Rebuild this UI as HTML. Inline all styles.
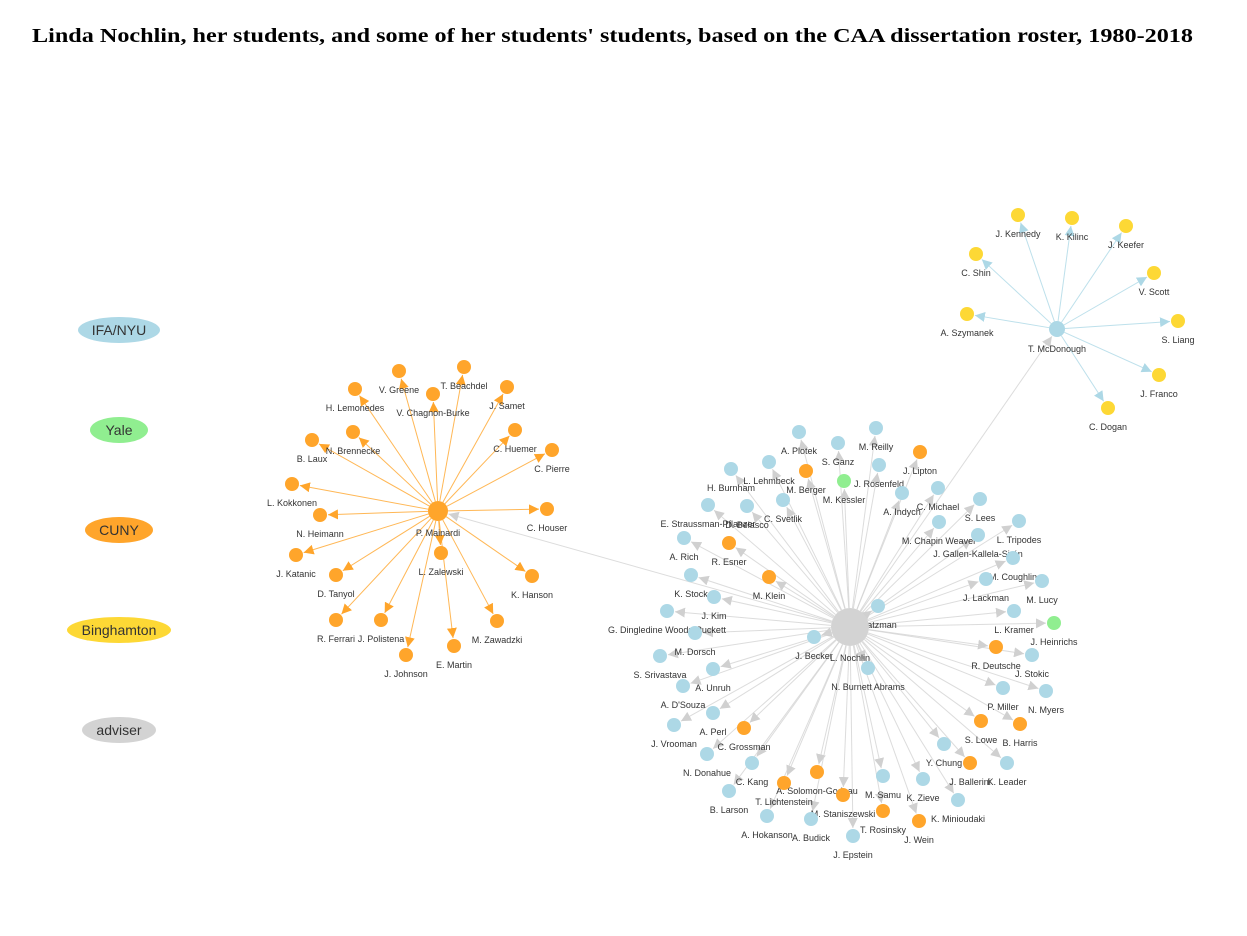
<!DOCTYPE html>
<html><head><meta charset="utf-8"><style>
html,body{margin:0;padding:0;background:#fff;}
svg{display:block;font-family:"Liberation Sans",Arial,sans-serif;}
</style></head><body>
<svg id="s" width="1247" height="936" viewBox="0 0 1247 936" xmlns="http://www.w3.org/2000/svg">
<defs>
<marker id="ag" viewBox="0 0 10 10" refX="10" refY="5" markerWidth="10" markerHeight="10" markerUnits="userSpaceOnUse" orient="auto"><path d="M0,0L10,5L0,10z" fill="#d0d0d0"/></marker>
<marker id="ao" viewBox="0 0 10 10" refX="10" refY="5" markerWidth="10" markerHeight="10" markerUnits="userSpaceOnUse" orient="auto"><path d="M0,0L10,5L0,10z" fill="#ffa52b"/></marker>
<marker id="ab" viewBox="0 0 10 10" refX="10" refY="5" markerWidth="10" markerHeight="10" markerUnits="userSpaceOnUse" orient="auto"><path d="M0,0L10,5L0,10z" fill="#add8e6"/></marker>
</defs>
<text x="32" y="42" textLength="1161" lengthAdjust="spacingAndGlyphs" font-family="'Liberation Serif',serif" font-weight="bold" font-size="20" fill="#000">Linda Nochlin, her students, and some of her students' students, based on the CAA dissertation roster, 1980-2018</text>
<g font-size="14" fill="#333" text-anchor="middle">
<ellipse cx="119" cy="330" rx="41" ry="13" fill="#add8e6"/><text x="119" y="335">IFA/NYU</text>
<ellipse cx="119" cy="430" rx="29" ry="13" fill="#90ee90"/><text x="119" y="435">Yale</text>
<ellipse cx="119" cy="530" rx="34" ry="13" fill="#ffa52b"/><text x="119" y="535">CUNY</text>
<ellipse cx="119" cy="630" rx="52" ry="13" fill="#fdd835"/><text x="119" y="635">Binghamton</text>
<ellipse cx="119" cy="730" rx="37" ry="13" fill="#d3d3d3"/><text x="119" y="735">adviser</text>
</g>
<g id="e"></g><g id="n"></g>
</svg>
<script>
var C={b:"#add8e6",g:"#90ee90",o:"#ffa52b",y:"#fdd835",a:"#d3d3d3"};
var N=[850,627],M=[438,511],D=[1057,329];
var main=[
[799,432,"b","A. Plotek"],[876,428,"b","M. Reilly"],[838,443,"b","S. Ganz"],[920,452,"o","J. Lipton"],
[769,462,"b","L. Lehmbeck"],[731,469,"b","H. Burnham"],[806,471,"o","M. Berger"],[844,481,"g","M. Kessler"],
[879,465,"b","J. Rosenfeld"],[902,493,"b","A. Indych"],[938,488,"b","C. Michael"],[980,499,"b","S. Lees"],
[783,500,"b","C. Svetlik"],[747,506,"b","D. Belasco"],[708,505,"b","E. Straussman-Pflanzer"],
[1019,521,"b","L. Tripodes"],[939,522,"b","M. Chapin Weaver"],[978,535,"b","J. Gallen-Kallela-Sirén"],
[684,538,"b","A. Rich"],[729,543,"o","R. Esner"],[1013,558,"b","M. Coughlin"],[1042,581,"b","M. Lucy"],
[986,579,"b","J. Lackman"],[769,577,"o","M. Klein"],[691,575,"b","K. Stock"],[714,597,"b","J. Kim"],
[667,611,"b","G. Dingledine Woods-Puckett"],[878,606,"b","Platzman"],[1014,611,"b","L. Kramer"],
[1054,623,"g","J. Heinrichs"],[814,637,"b","J. Becker"],[996,647,"o","R. Deutsche"],[1032,655,"b","J. Stokic"],
[868,668,"b","N. Burnett Abrams"],[695,633,"b","M. Dorsch"],[660,656,"b","S. Srivastava"],[713,669,"b","A. Unruh"],
[683,686,"b","A. D'Souza"],[713,713,"b","A. Perl"],[674,725,"b","J. Vrooman"],[744,728,"o","C. Grossman"],
[707,754,"b","N. Donahue"],[752,763,"b","C. Kang"],[729,791,"b","B. Larson"],[817,772,"o","A. Solomon-Godeau"],
[784,783,"o","T. Lichtenstein"],[843,795,"o","M. Staniszewski"],[767,816,"b","A. Hokanson"],[811,819,"b","A. Budick"],
[853,836,"b","J. Epstein"],[883,776,"b","M. Samu"],[883,811,"o","T. Rosinsky"],[923,779,"b","K. Zieve"],
[919,821,"o","J. Wein"],[958,800,"b","K. Minioudaki"],[944,744,"b","Y. Chung"],[970,763,"o","J. Ballerini"],
[1007,763,"b","K. Leader"],[981,721,"o","S. Lowe"],[1003,688,"b","P. Miller"],[1020,724,"o","B. Harris"],[1046,691,"b","N. Myers"]];
var mai=[[399,371,"V. Greene"],[464,367,"T. Beachdel"],[355,389,"H. Lemonedes"],[433,394,"V. Chagnon-Burke"],
[507,387,"J. Samet"],[353,432,"N. Brennecke"],[515,430,"C. Huemer"],[312,440,"B. Laux"],[552,450,"C. Pierre"],
[292,484,"L. Kokkonen"],[547,509,"C. Houser"],[320,515,"N. Heimann"],[441,553,"L. Zalewski"],[296,555,"J. Katanic"],
[336,575,"D. Tanyol"],[532,576,"K. Hanson"],[336,620,"R. Ferrari"],[381,620,"J. Polistena"],[497,621,"M. Zawadzki"],
[454,646,"E. Martin"],[406,655,"J. Johnson"]];
var mcd=[[1018,215,"J. Kennedy"],[1072,218,"K. Kilinc"],[1126,226,"J. Keefer"],[976,254,"C. Shin"],[1154,273,"V. Scott"],
[967,314,"A. Szymanek"],[1178,321,"S. Liang"],[1159,375,"J. Franco"],[1108,408,"C. Dogan"]];
var E=document.getElementById("e"),G=document.getElementById("n"),ns="http://www.w3.org/2000/svg";
function el(t,a,p){var e=document.createElementNS(ns,t);for(var k in a)e.setAttribute(k,a[k]);p.appendChild(e);return e;}
function edge(s,sr,t,tr,col,mk){var dx=t[0]-s[0],dy=t[1]-s[1],L=Math.hypot(dx,dy),ux=dx/L,uy=dy/L;
el("line",{x1:s[0]+ux*sr,y1:s[1]+uy*sr,x2:t[0]-ux*(tr+1),y2:t[1]-uy*(tr+1),stroke:col,"stroke-width":1,"stroke-opacity":0.8,"marker-end":"url(#"+mk+")"},E);}
function node(x,y,r,c,lab,dy){el("circle",{cx:x,cy:y,r:r,fill:c},G);var t=el("text",{x:x,y:y+(dy||22),"text-anchor":"middle","font-size":9,fill:"#333"},G);t.textContent=lab;}
main.forEach(function(d){edge(N,19,d,7,"#d3d3d3","ag");});
edge(N,19,M,10,"#d3d3d3","ag");edge(N,19,D,8,"#d3d3d3","ag");
mai.forEach(function(d){edge(M,10,d,7,"#ffa52b","ao");});
mcd.forEach(function(d){edge(D,8,d,7,"#add8e6","ab");});
main.forEach(function(d){node(d[0],d[1],7,C[d[2]],d[3]);});
mai.forEach(function(d){node(d[0],d[1],7,C.o,d[2]);});
mcd.forEach(function(d){node(d[0],d[1],7,C.y,d[2]);});
node(M[0],M[1],10,C.o,"P. Mainardi",25);
node(D[0],D[1],8,C.b,"T. McDonough",23);
node(N[0],N[1],19,C.a,"L. Nochlin",34);
</script>
</body></html>
